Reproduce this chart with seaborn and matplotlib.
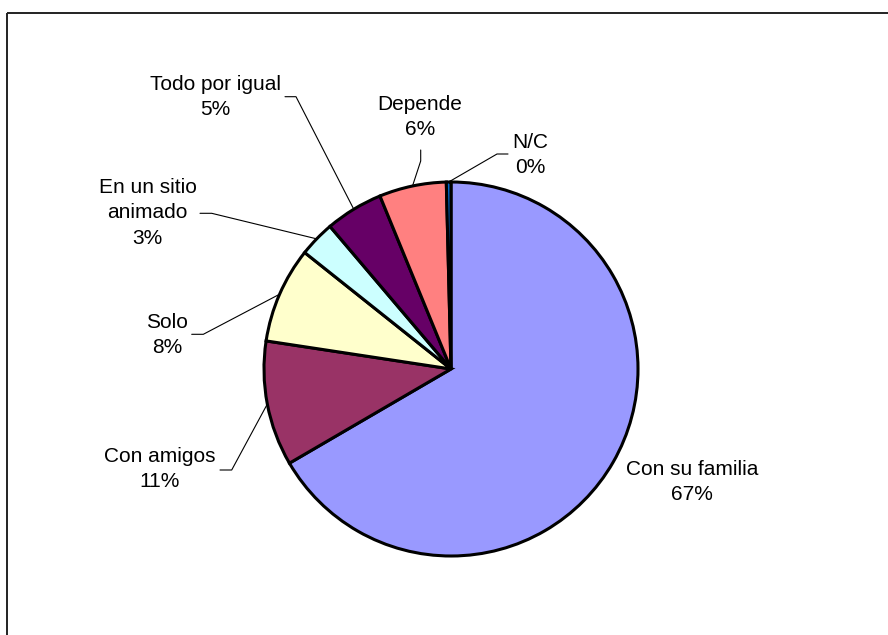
import numpy as np
import matplotlib
matplotlib.use("Agg")
import matplotlib.pyplot as plt
import seaborn as sns

# Survey answers and their shares (%)
categorias = ["Con su familia", "Con amigos", "Solo", "En un sitio\nanimado",
              "Todo por igual", "Depende", "N/C"]
porcentajes = [66.6, 10.8, 8.3, 3.1, 5.0, 5.8, 0.4]
colores = ["#9999FF", "#993366", "#FFFFCC", "#CCFFFF", "#660066", "#FF8080", "#0066CC"]

# Canvas layout in pixels (y measured downward from the top edge)
W, H = 888, 635
centro = (451, 369)
radio = 187

# Centre of each label block
texto_pos = [(692, 482), (160, 469), (167, 335), (147.5, 213),
             (215.5, 97), (420, 117), (530, 155)]
# Leader line: start beside the label, elbow, then on to the slice edge
guia_pos = [None,
            ((220, 470), (231.7, 470)),
            ((191.7, 334.3), (203.3, 334.3)),
            ((200, 213.3), (211.7, 213.3)),
            ((285, 96.7), (296, 96.7)),
            ((420.7, 150), (420.7, 161)),
            ((508, 154), (497, 154))]

sns.set_theme(style="white")
plt.rcParams["font.family"] = ["Liberation Sans", "DejaVu Sans"]

fig = plt.figure(figsize=(W / 100, H / 100), dpi=100, facecolor="white")
ax = fig.add_axes([0, 0, 1, 1])

wedges, _ = ax.pie(
    porcentajes,
    colors=sns.color_palette(colores),
    startangle=90,
    counterclock=False,
    center=(centro[0], H - centro[1]),
    radius=radio,
    wedgeprops=dict(edgecolor="black", linewidth=2.2),
)
ax.set_xlim(0, W)
ax.set_ylim(0, H)
ax.set_aspect("equal")
ax.axis("off")

# Leader lines from each label to the middle of its slice edge
for w, guia in zip(wedges, guia_pos):
    if guia is None:
        continue
    ang = np.deg2rad((w.theta1 + w.theta2) / 2)
    ex = w.center[0] + w.r * np.cos(ang)
    ey = w.center[1] + w.r * np.sin(ang)
    (x0, y0), (x1, y1) = guia
    ax.plot([x0, x1, ex], [H - y0, H - y1, ey], color="black", lw=0.8,
            solid_joinstyle="miter", zorder=3)

# Category and percentage labels
for cat, val, (tx, ty) in zip(categorias, porcentajes, texto_pos):
    ax.text(tx, H - ty, f"{cat}\n{val:.0f}%", ha="center", va="center",
            fontsize=15, linespacing=1.45, color="black")

# Chart area border (open to the right and bottom)
ax.plot([7, 7], [0, H - 13], color="#222222", lw=1.4, solid_capstyle="butt")
ax.plot([7, W], [H - 13, H - 13], color="#222222", lw=1.4, solid_capstyle="butt")

fig.savefig("out.png", dpi=100, facecolor="white")
